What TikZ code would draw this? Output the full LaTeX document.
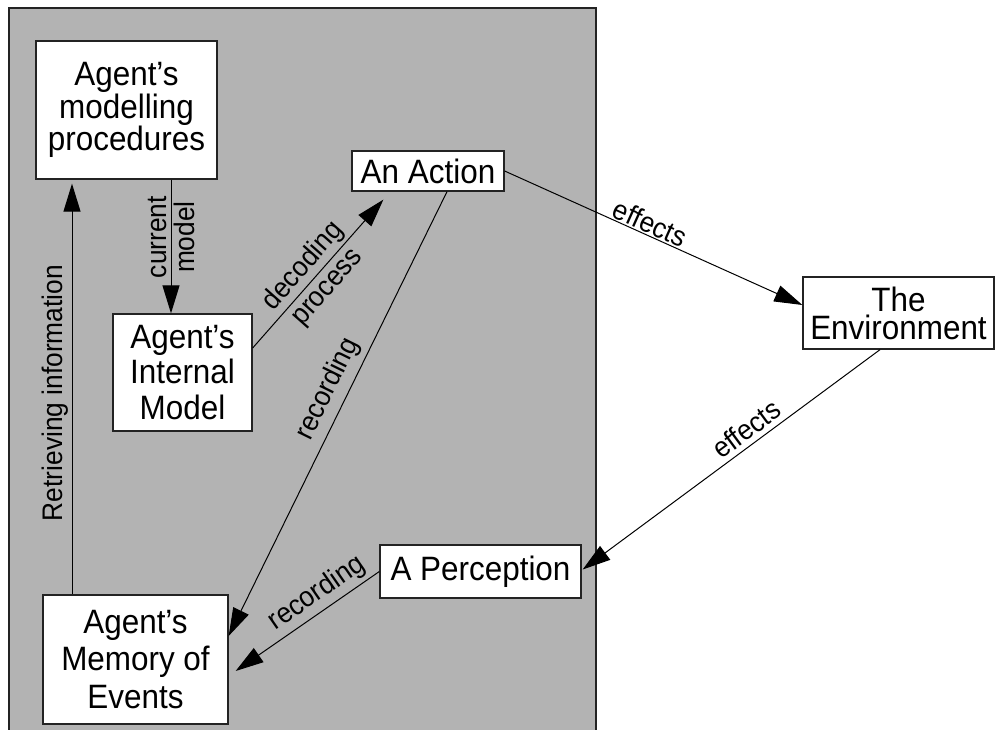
\documentclass[tikz,border=0pt]{standalone}
\usepackage{fontspec}
\setmainfont[FakeStretch=0.93]{Liberation Sans}
\usetikzlibrary{arrows.meta,calc}
\definecolor{panelgray}{RGB}{179,179,179}
\definecolor{boxline}{RGB}{35,35,35}
\begin{document}
\begin{tikzpicture}[x=1pt,y=-1pt,
  box/.style={draw=boxline, line width=1.3pt, fill=white, inner sep=0pt, align=center},
  arr/.style={line width=1pt, -{Triangle[length=28pt,width=17pt]}},
  lbl/.style={inner sep=0pt, font=\fontsize{28.3}{29}\selectfont, align=center}]
\useasboundingbox (0,0) rectangle (996,729);
\begin{scope}
\clip (0,0) rectangle (996,729);
\draw[fill=panelgray, draw=boxline, line width=1.2pt] (9,8) rectangle (596,745);
\end{scope}
% boxes
\node[box, minimum width=181pt, minimum height=138pt, font=\fontsize{33.8}{31.5}\selectfont] (proc) at (126.5,110) {Agent’s\\modelling\\procedures};
\node[box, minimum width=152pt, minimum height=40pt, font=\fontsize{33.8}{36}\selectfont] (action) at (428,171) {An Action};
\node[box, minimum width=139pt, minimum height=117pt, font=\fontsize{33.8}{35.5}\selectfont] (internal) at (182.5,372.5) {Agent’s\\Internal\\Model};
\node[box, minimum width=191pt, minimum height=72pt, font=\fontsize{33.8}{28}\selectfont] (env) at (898.5,313) {The\\Environment};
\node[box, minimum width=201pt, minimum height=53pt, font=\fontsize{33.8}{36}\selectfont] (percep) at (480.5,571.5) {A Perception};
\node[box, minimum width=185pt, minimum height=129pt, font=\fontsize{33.8}{37.5}\selectfont] (memory) at (135.5,659.5) {Agent’s\\Memory of\\Events};
% connectors
\draw[arr] ($(proc.south)+(44.5,0)$) -- ($(internal.north)+(-11.5,0)$)
  node[lbl, pos=0.43, rotate=90, font=\fontsize{28.3}{28}\selectfont] (cmlbl) {current\\model};
\draw[arr] ($(memory.north)+(-63.5,0)$) -- ($(proc.south)+(-54.5,4)$)
  coordinate[pos=0.49] (retmid);
\node[lbl, rotate=90] (retlbl) at ($(retmid)+(-17,0)$) {Retrieving information};
\draw[arr] ($(internal.east)+(0,-24.5)$) -- ($(action.south west)+(32,8)$)
  node[lbl, pos=0.48, sloped, font=\fontsize{28.3}{32}\selectfont] (declbl) {decoding\\process};
\draw[arr] ($(action.south)+(19,0)$) -- ($(memory.east)+(0,-23.5)$)
  node[lbl, pos=0.464, sloped, above=6pt] (rec1lbl) {recording};
\draw[arr] (action.east) -- ($(env.west)+(0,-8)$)
  node[lbl, pos=0.472, sloped, above=1.5pt] (eff1lbl) {effects};
\draw[arr] ($(env.south)+(-18.5,0)$) -- ($(percep.east)+(1,-2)$)
  node[lbl, pos=0.418, sloped, above=5pt] (eff2lbl) {effects};
\draw[arr] (percep.west) -- ($(memory.east)+(7,11.5)$)
  node[lbl, pos=0.365, sloped, above=4pt] (rec2lbl) {recording};
\end{tikzpicture}
\end{document}
